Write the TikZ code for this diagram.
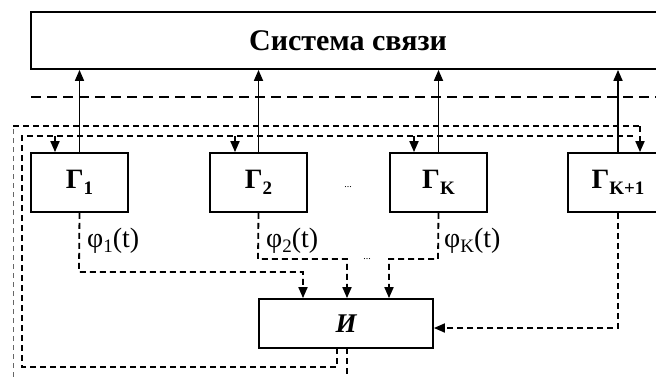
\documentclass[tikz,border=0pt]{standalone}
\usepackage{fontspec}
\setmainfont{Liberation Serif}
\usetikzlibrary{arrows.meta}
\begin{document}
\begin{tikzpicture}[x=1pt,y=-1pt,
 box/.style={draw,line width=1.8pt,inner sep=0pt,fill=white},
 gbox/.style={box,minimum width=97pt,minimum height=59pt,font=\fontsize{28}{28}\selectfont\bfseries},
 sol/.style={line width=1.7pt},
 dsh/.style={line width=1.8pt,dash pattern=on 6pt off 4pt},
 thin dsh/.style={line width=0.9pt,dash pattern=on 5pt off 4pt,black!60},
 big dsh/.style={line width=2.1pt,dash pattern=on 10pt off 6pt},
 tip/.style={-{Triangle[length=11pt,width=9pt]}},
 lab/.style={font=\fontsize{28}{28}\selectfont,anchor=west,inner sep=0pt},
 dots/.style={font=\fontsize{10}{10}\selectfont,inner sep=0pt},
]
\useasboundingbox (0,0) rectangle (656,376);
\newcommand{\gsub}[1]{\raisebox{-6pt}{\fontsize{19}{19}\selectfont #1}}
\newcommand{\fsub}[1]{\raisebox{-0.4ex}{\fontsize{19}{19}\selectfont #1}}
% boxes
\node[box,minimum width=634pt,minimum height=57pt,font=\fontsize{30}{30}\selectfont\bfseries] (sys) at (348,40.5) {Система связи};
\node[gbox] (G1) at (79.5,182.5) {Γ\gsub{1}};
\node[gbox] (G2) at (258.5,182.5) {Γ\gsub{2}};
\node[gbox] (GK) at (438.5,182.5) {Γ\gsub{K}};
\node[gbox,minimum width=100pt] (GK1) at (618,182.5) {Γ\gsub{K+1}};
\node[box,minimum width=174pt,minimum height=49pt,font=\fontsize{27}{27}\selectfont\bfseries\itshape] (I) at (346,323.5) {И};
% top dashed line
\coordinate (tl) at (31,97);
\coordinate (tr) at (665,97);
\draw[big dsh] (tl) -- (tr);
% solid arrows up
\foreach \n in {G1,G2,GK,GK1} \draw[sol,tip] (\n.north) -- (\n.north |- sys.south);
% inner feedback loop
\coordinate (i0) at (337,348);
\coordinate (i1) at (337,367);
\coordinate (i2) at (22,367);
\coordinate (i3) at (22,136);
\coordinate (i4) at (636,136);
\draw[dsh] (i0) -- (i1) -- (i2) -- (i3) -- (i4);
\coordinate (a1) at (55,136);
\coordinate (a2) at (235,136);
\coordinate (a3) at (414,136);
\draw[dsh,tip] (a1) -- (a1 |- G1.north);
\draw[dsh,tip] (a2) -- (a2 |- G2.north);
\draw[dsh,tip] (a3) -- (a3 |- GK.north);
% outer feedback loop
\coordinate (o0) at (347,348);
\coordinate (o1) at (347,385);
\coordinate (o2) at (13,385);
\coordinate (o3) at (13,126);
\coordinate (o4) at (640,126);
\draw[thin dsh] (o1) -- (o2) -- (o3);
\draw[dsh] (o0) -- (o1);
\draw[dsh] (o3) -- (o4);
\draw[dsh,tip] (o4) -- (o4 |- GK1.north);
% outputs to И
\coordinate (b1) at (79,272);
\coordinate (b1i) at (303,272);
\draw[dsh,tip] (G1.south) -- (b1) -- (b1i) -- (b1i |- I.north);
\coordinate (b2) at (258,259);
\coordinate (b2i) at (347,259);
\draw[dsh,tip] (G2.south) -- (b2) -- (b2i) -- (b2i |- I.north);
\coordinate (b3) at (438,259);
\coordinate (b3i) at (389,259);
\draw[dsh,tip] (GK.south) -- (b3) -- (b3i) -- (b3i |- I.north);
\coordinate (b4) at (618,328);
\draw[dsh,tip] (GK1.south) -- (b4) -- (b4 -| I.east);
% labels
\node[lab] (f1) at (87,241) {φ\fsub{1}(t)};
\node[lab] (f2) at (266,241) {φ\fsub{2}(t)};
\node[lab] (fK) at (444,241) {φ\fsub{K}(t)};
\node[dots] (d1) at (348,187) {...};
\node[dots] (d2) at (367,259) {...};
\end{tikzpicture}
\end{document}
